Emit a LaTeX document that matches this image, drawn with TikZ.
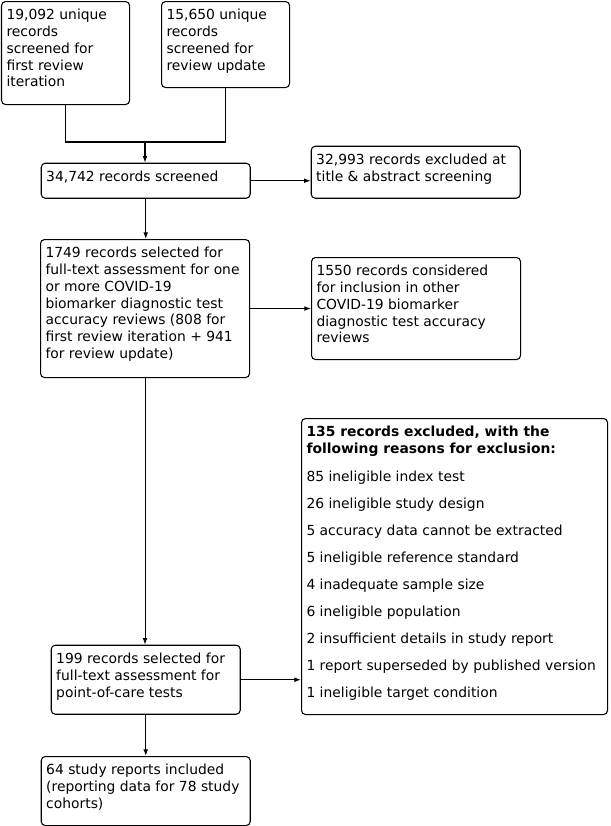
\documentclass[tikz,border=0pt]{standalone}
\usepackage{fontspec}
\setmainfont{DejaVu Sans}
\usetikzlibrary{arrows.meta}
\newlength{\px}
\setlength{\px}{0.75pt}
% text block of a fixed size, set at the top of its box
\newcommand{\boxtext}[3]{\begin{minipage}[t][#2][t]{#1}\raggedright\vspace*{2pt}#3\end{minipage}}

\begin{document}
\begin{tikzpicture}[x=0.75pt, y=-0.75pt,
    box/.style={draw, line width=0.8pt, rounded corners=3pt, inner sep=5\px, anchor=north west,
                font=\fontsize{10.4pt}{12.6pt}\selectfont},
    arr/.style={line width=0.8pt, -{Latex[length=5pt,width=3.6pt]}},
    lnk/.style={line width=0.8pt}]
    \useasboundingbox (0,0) rectangle (611,826);
    % Sources
    \node[box] (first) at (1,1) {\boxtext{118\px}{93\px}{19,092 unique\\ records\\ screened for\\ first review\\ iteration}};
    \node[box] (update) at (161,1) {\boxtext{118\px}{76\px}{15,650 unique\\ records\\ screened for\\ review update}};
    % Screening
    \node[box] (screened) at (40.7,162.7) {\boxtext{199\px}{25\px}{34,742 records screened}};
    \node[box] (titleabs) at (310.7,145.7) {\boxtext{199\px}{42\px}{32,993 records excluded at\\ title \& abstract screening}};
    \node[box] (fulltext) at (40,239) {\boxtext{199\px}{128\px}{1749 records selected for\\ full-text assessment for one\\ or more COVID-19\\ biomarker diagnostic test\\ accuracy reviews (808 for\\ first review iteration + 941\\ for review update)}};
    \node[box] (other) at (311,257) {\boxtext{199\px}{92\px}{1550 records considered\\ for inclusion in other\\ COVID-19 biomarker\\ diagnostic test accuracy\\ reviews}};
    % Point-of-care
    \node[box] (poc) at (50.7,644.7) {\boxtext{179\px}{59\px}{199 records selected for\\ full-text assessment for\\ point-of-care tests}};
    \node[box] (excluded) at (301,418) {\boxtext{296\px}{286\px}{\textbf{135 records excluded, with the\\ following reasons for exclusion:}\\[8.4pt]
        85 ineligible index test\\[7.6pt]
        26 ineligible study design\\[7.6pt]
        5 accuracy data cannot be extracted\\[7.6pt]
        5 ineligible reference standard\\[7.6pt]
        4 inadequate sample size\\[7.6pt]
        6 ineligible population\\[7.6pt]
        2 insufficient details in study report\\[7.6pt]
        1 report superseded by published version\\[7.6pt]
        1 ineligible target condition}};
    \node[box] (included) at (40.7,756) {\boxtext{199\px}{59\px}{64 study reports included\\ (reporting data for 78 study\\ cohorts)}};

    % Connectors
    \coordinate (join) at (145,142);
    \draw[lnk] (first.south) |- (join) -| (update.south);
    \draw[arr] (join) -- (screened.north -| join);
    \draw[arr] (screened.east) -- (screened.east -| titleabs.west);
    \draw[arr] (screened.south) -- (fulltext.north -| screened.south);
    \draw[arr] (fulltext.east) -- (fulltext.east -| other.west);
    \draw[arr] (fulltext.south) -- (poc.north -| fulltext.south);
    \draw[arr] (poc.east) -- (poc.east -| excluded.west);
    \draw[arr] (poc.south) -- (included.north -| poc.south);
\end{tikzpicture}
\end{document}
